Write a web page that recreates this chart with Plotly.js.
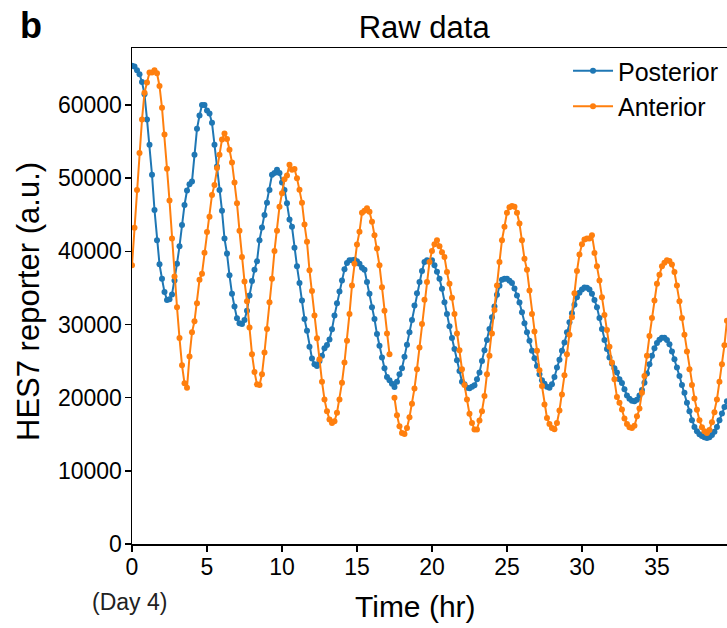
<!DOCTYPE html>
<html><head><meta charset="utf-8">
<script src="https://cdn.plot.ly/plotly-3.0.1.min.js"></script>
<style>html,body{margin:0;padding:0;background:#fff}#chart{width:727px;height:628px}</style>
</head><body><div id="chart"></div>
<script>
const timeMinutes = [
0,10,20,30,40,50,60,70,80,90,100,110,120,130,140,150,160,170,180,190,
200,210,220,230,240,250,260,270,280,290,300,310,320,330,340,350,360,370,380,390,
400,410,420,430,440,450,460,470,480,490,500,510,520,530,540,550,560,570,580,590,
600,610,620,630,640,650,660,670,680,690,700,710,720,730,740,750,760,770,780,790,
800,810,820,830,840,850,860,870,880,890,900,910,920,930,940,950,960,970,980,990,
1000,1010,1020,1030,1040,1050,1060,1070,1080,1090,1100,1110,1120,1130,1140,1150,1160,1170,1180,1190,
1200,1210,1220,1230,1240,1250,1260,1270,1280,1290,1300,1310,1320,1330,1340,1350,1360,1370,1380,1390,
1400,1410,1420,1430,1440,1450,1460,1470,1480,1490,1500,1510,1520,1530,1540,1550,1560,1570,1580,1590,
1600,1610,1620,1630,1640,1650,1660,1670,1680,1690,1700,1710,1720,1730,1740,1750,1760,1770,1780,1790,
1800,1810,1820,1830,1840,1850,1860,1870,1880,1890,1900,1910,1920,1930,1940,1950,1960,1970,1980,1990,
2000,2010,2020,2030,2040,2050,2060,2070,2080,2090,2100,2110,2120,2130,2140,2150,2160,2170,2180,2190,
2200,2210,2220,2230,2240,2250,2260,2270,2280,2290,2300,2310,2320,2330,2340,2350,2360,2370,2380
];

const posterior = [
65360,65270,64770,64220,63160,61470,58030,54590,50470,45660,41530,38230,36260,34430,33370,33460,34110,36030,38320,40690,
43590,46340,48310,49180,49550,53220,56750,58580,60000,60000,59270,58850,57570,54590,51610,48400,45560,41760,39700,36720,
34200,32450,30850,30160,30070,30620,31900,33970,35940,37500,38640,41530,43270,44970,46660,48400,50470,50700,51150,50700,
49410,48400,46570,44370,43360,40480,37960,35660,33280,30760,29160,26960,25360,24570,24340,25030,25720,26770,27200,27970,
29340,31220,32920,34520,36030,37540,38410,38780,38780,38870,38640,38320,37770,37500,35800,34200,32360,30760,28700,27100,
25490,24020,22830,22370,21920,21460,22190,23200,24020,25580,27230,28930,30620,32590,34290,35800,37310,38550,38780,38640,
38780,38090,37220,36260,34880,33050,31450,29750,28150,26640,25130,23660,22190,21830,21370,21280,21500,21690,22510,23430,
25030,26500,27870,29380,30990,32460,34060,35300,36120,36260,36260,35980,35660,34930,33970,33010,31680,30170,28930,27780,
26410,25400,24340,23200,22370,21920,21500,21370,21830,22830,24110,25170,26410,27550,28930,30300,31540,32690,33740,34330,
34790,35070,35020,34790,34200,33370,32360,30900,29380,27870,26640,25490,24670,24020,23430,22510,22000,21140,20310,19850,
19580,19530,19710,20310,21050,22050,23290,24570,25720,26770,27460,27920,28190,28190,27870,27320,26320,25260,24110,22970,
21730,20680,19300,18160,16920,16000,15410,14990,14760,14580,14490,14580,14900,15360,16000,16920,17840,18710,19530
];

const anterior = [
38100,43230,48400,53450,58030,61700,63070,64450,64450,64770,64350,62610,59630,55970,51290,46940,41760,36580,32360,28150,
24440,21960,21370,25630,28930,30440,32920,36120,36950,39820,42660,44730,47710,49090,51380,53220,55280,56100,55370,53900,
52160,49410,46570,42810,39240,35890,33190,29610,25950,23520,21820,21730,23200,26180,29390,33050,36260,40060,42810,46110,
47940,49870,50380,51840,51150,51250,50010,48410,46660,43680,41300,37410,34570,31220,28110,25260,22190,19760,18160,17010,
16550,16780,17930,19760,22050,24800,27780,31450,35340,38320,40930,42680,45290,45560,45880,45420,44050,42220,40390,38090,
35110,31900,28790,25950,null,19990,17610,16090,15180,15040,15860,17330,19160,21270,23890,26870,30070,33400,35800,38550,
40060,40970,41530,40700,39880,39240,37180,35570,33650,31450,28790,26500,23890,21730,19760,17790,16550,15640,15640,16870,
18160,20220,23200,25720,28790,31990,35340,38550,41530,43360,45290,46020,46200,46110,45290,43820,41530,39000,37500,34650,
31450,29060,26410,23750,21600,19070,17240,16420,15860,15680,16550,18250,20450,23060,25950,28610,30990,34290,37310,39560,
40970,41610,41750,41750,42220,39790,37960,36030,33740,31310,29250,26960,24810,22520,20090,19310,18390,17150,16420,15950,
15860,16180,17470,18530,20680,22970,25720,28420,30900,33280,35570,36810,37960,38460,38780,38690,38190,37180,35340,33190,
30900,28610,26320,23890,21730,19900,18340,16920,15950,15410,15180,15590,16650,18020,19760,22190,24570,27180,30530
];

const seriesNames = ['Posterior', 'Anterior'];
const seriesColors = ['#1f77b4', '#ff7f0e'];
const xTickVals = [0, 5, 10, 15, 20, 25, 30, 35];
const yTickVals = [0, 10000, 20000, 30000, 40000, 50000, 60000];

const timeHours = timeMinutes.map(m => m / 60);
const mainFont = 'Liberation Sans, Arial, Helvetica, sans-serif';

const traces = [posterior, anterior].map((vals, i) => ({
  type: 'scatter',
  mode: 'lines+markers',
  name: seriesNames[i],
  x: timeHours,
  y: vals,
  connectgaps: false,
  cliponaxis: true,
  line: {color: seriesColors[i], width: 2},
  marker: {color: seriesColors[i], size: 6, line: {width: 0}}
}));

const layout = {
  width: 727, height: 628,
  margin: {l: 132, r: 0, t: 48, b: 84},
  paper_bgcolor: '#ffffff', plot_bgcolor: '#ffffff',
  font: {family: mainFont, color: '#000'},
  showlegend: true,
  title: {
    text: 'Raw data',
    font: {family: mainFont, size: 31, color: '#000'},
    x: 0.491, xref: 'paper', xanchor: 'center',
    y: 1 - 27 / 628, yref: 'container', yanchor: 'middle'
  },
  xaxis: {
    range: [0, 39.67],
    tickvals: xTickVals,
    ticktext: xTickVals.map(String),
    ticks: 'outside', ticklen: 6, tickwidth: 1.5, tickcolor: '#000',
    ticklabelstandoff: -4,
    showline: true, linecolor: '#000', linewidth: 1.5, mirror: true,
    showgrid: false, zeroline: false,
    tickfont: {family: mainFont, size: 23, color: '#000'}
  },
  yaxis: {
    range: [0, 67800],
    tickvals: yTickVals,
    ticktext: yTickVals.map(String),
    ticks: 'outside', ticklen: 6, tickwidth: 1.5, tickcolor: '#000',
    ticklabelstandoff: -2,
    showline: true, linecolor: '#000', linewidth: 1.5,
    showgrid: false, zeroline: false,
    tickfont: {family: mainFont, size: 23, color: '#000'}
  },
  legend: {
    x: 0.995, xanchor: 'right', xref: 'paper',
    y: 1.0, yanchor: 'top', yref: 'paper',
    bgcolor: 'rgba(0,0,0,0)',
    font: {family: mainFont, size: 25, color: '#000'},
    itemwidth: 40, tracegroupgap: 0
  },
  annotations: [
    {text: '<b>b</b>', xref: 'paper', yref: 'paper', x: (31 - 132) / 595, y: (544 - 26) / 496,
     xanchor: 'center', yanchor: 'middle', showarrow: false, font: {family: mainFont, size: 36, color: '#000'}},
    {text: 'Time (hr)', xref: 'paper', yref: 'paper', x: (415 - 132) / 595, y: (544 - 606) / 496,
     xanchor: 'center', yanchor: 'middle', showarrow: false, font: {family: mainFont, size: 30, color: '#000'}},
    {text: '(Day 4)', xref: 'paper', yref: 'paper', x: (129 - 132) / 595, y: (544 - 602) / 496,
     xanchor: 'center', yanchor: 'middle', showarrow: false, font: {family: mainFont, size: 23, color: '#222'}},
    {text: 'HES7 reporter (a.u.)', xref: 'paper', yref: 'paper', x: (28 - 132) / 595, y: (544 - 302) / 496,
     xanchor: 'center', yanchor: 'middle', textangle: -90, showarrow: false, font: {family: mainFont, size: 31, color: '#000'}}
  ]
};

Plotly.newPlot('chart', traces, layout, {displayModeBar: false, staticPlot: true});
</script>
</body></html>
